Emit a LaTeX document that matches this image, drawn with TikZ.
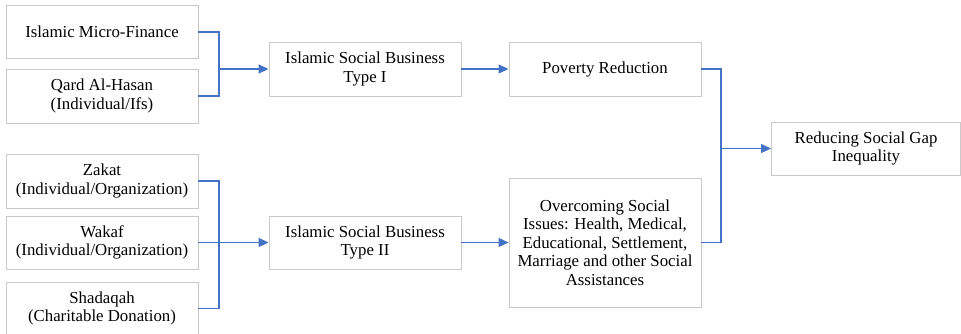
\documentclass[tikz,border=0pt]{standalone}
\usepackage{fontspec}
\setmainfont{Liberation Serif}
\usetikzlibrary{arrows.meta}
\definecolor{boxgray}{HTML}{C9C9C9}
\definecolor{arrowblue}{HTML}{4472C4}
\begin{document}
\begin{tikzpicture}[x=1pt,y=-1pt,
  box/.style={draw=boxgray, line width=0.9pt, minimum width=192pt, minimum height=53pt, inner sep=0pt, align=center, font=\fontsize{16.8}{18.6}\selectfont},
  conn/.style={draw=arrowblue, line width=1.1pt},
  arr/.style={conn, -{Triangle[length=10pt,width=9pt]}},
  thick arr/.style={arr, line width=1.7pt}]
\useasboundingbox (0,0) rectangle (961,334);
\node[box] (mf) at (102,32) {Islamic Micro-Finance};
\node[box, minimum height=54pt] (qard) at (102,96) {Qard Al-Hasan\\(Individual/Ifs)};
\node[box, minimum height=54pt] (t1) at (365,69) {Islamic Social Business\\Type I};
\node[box, minimum height=54pt] (pov) at (605,69) {Poverty Reduction};
\node[box, minimum width=189pt] (red) at (866,148.5) {Reducing Social Gap\\Inequality};
\node[box, minimum height=54pt] (zakat) at (102,181) {Zakat\\(Individual/Organization)};
\node[box] (wakaf) at (102,242.5) {Wakaf\\(Individual/Organization)};
\node[box] (shad) at (102,308.5) {Shadaqah\\(Charitable Donation)};
\node[box] (t2) at (365,242.5) {Islamic Social Business\\Type II};
\node[box, minimum height=129pt] (over) at (605,242.5) {Overcoming Social\\Issues: Health, Medical,\\Educational, Settlement,\\Marriage and other Social\\Assistances};
\coordinate (j1) at (219,69);
\coordinate (j2) at (219,242.5);
\coordinate (j3) at (721,148.5);
\draw[conn] (mf.east) -| (j1);
\draw[conn] (qard.east) -| (j1);
\draw[thick arr] (j1) -- (t1.west);
\draw[arr] (t1.east) -- (pov.west);
\draw[conn] (zakat.east) -| (j2);
\draw[conn] (shad.east) -| (j2);
\draw[conn] (wakaf.east) -- (j2);
\draw[thick arr] (j2) -- (t2.west);
\draw[arr] (t2.east) -- (over.west);
\draw[conn] (pov.east) -| (j3);
\draw[conn] (over.east) -| (j3);
\draw[arr] (j3) -- (red.west);
\end{tikzpicture}
\end{document}
